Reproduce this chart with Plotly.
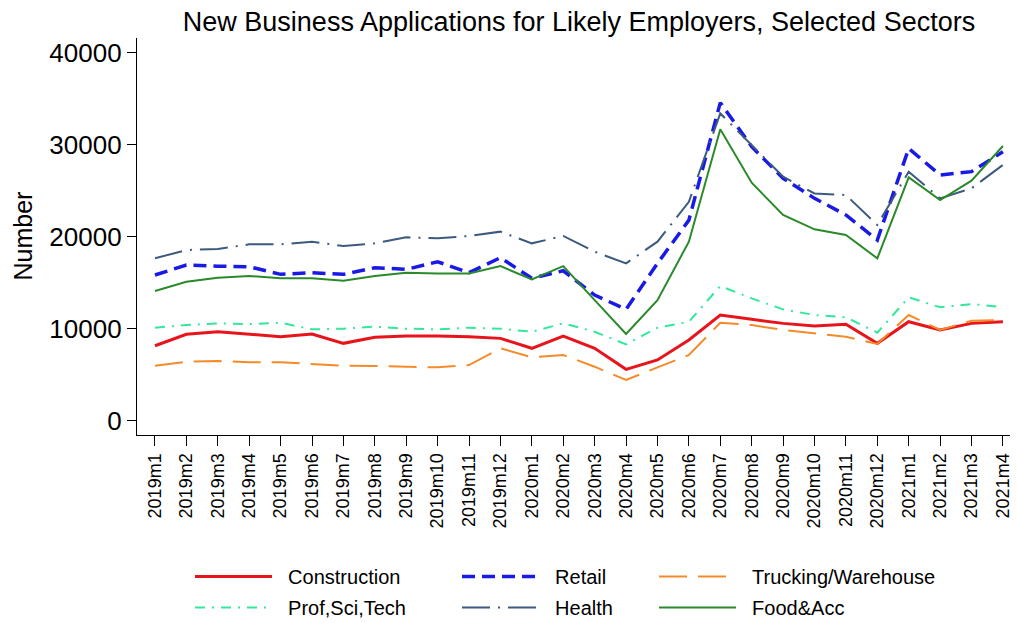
import plotly.graph_objects as go

months = [
    "2019m1", "2019m2", "2019m3", "2019m4", "2019m5", "2019m6", "2019m7",
    "2019m8", "2019m9", "2019m10", "2019m11", "2019m12", "2020m1", "2020m2",
    "2020m3", "2020m4", "2020m5", "2020m6", "2020m7", "2020m8", "2020m9",
    "2020m10", "2020m11", "2020m12", "2021m1", "2021m2", "2021m3", "2021m4",
]

construction = [8150, 9390, 9670, 9420, 9130, 9420, 8410, 9060, 9200, 9200,
                9130, 8950, 7870, 9200, 7870, 5580, 6600, 8770, 11490, 11020,
                10580, 10300, 10480, 8410, 10760, 9860, 10580, 10760]
retail = [15840, 16920, 16800, 16740, 15910, 16090, 15910, 16630, 16450, 17280,
          16090, 17720, 15480, 16300, 13660, 12100, 17100, 21800, 34570, 29780,
          26350, 24170, 22360, 19640, 29600, 26700, 27070, 29240]
trucking = [5980, 6410, 6490, 6350, 6350, 6130, 5980, 5940, 5870, 5800,
            6050, 7870, 6890, 7140, 5870, 4420, 5800, 7140, 10650, 10400,
            9860, 9500, 9130, 8340, 11490, 9860, 10870, 10930]
prof_sci_tech = [10110, 10400, 10580, 10500, 10650, 9930, 10000, 10220, 10000, 9930,
                 10110, 10000, 9670, 10580, 9670, 8300, 10100, 10760, 14640, 13300,
                 12100, 11490, 11240, 9570, 13410, 12330, 12680, 12330]
health = [17650, 18550, 18660, 19170, 19170, 19460, 18990, 19280, 19930, 19820,
          20080, 20550, 19280, 20080, 18370, 17100, 19460, 23800, 33400, 29970,
          26520, 24700, 24530, 21270, 27070, 24170, 25260, 27800]
food_acc = [14100, 15110, 15550, 15730, 15480, 15480, 15220, 15730, 16090, 16000,
            16000, 16800, 15370, 16800, 13100, 9420, 13100, 19460, 31670, 25870,
            22360, 20800, 20180, 17650, 26450, 23990, 26090, 29860]

FONT = "Liberation Sans, Arial, sans-serif"
PAD = "\u00a0\u00a0"

# page body has an 8px margin, so the figure is a bit smaller than the window
W, H = 1010, 615

# name, values, colour, width, dash, legend
series = [
    ("Construction", construction, "#E8141C", 3, "solid", "legend"),
    ("Retail", retail, "#1A1AE6", 3.5, "13px,7px", "legend2"),
    ("Trucking/Warehouse", trucking, "#F58A2A", 2, "28px,11px", "legend3"),
    ("Prof,Sci,Tech", prof_sci_tech, "#33E89A", 2, "10px,7px,2px,7px", "legend"),
    ("Health", health, "#3C5A7D", 2, "28px,8px,2px,8px", "legend2"),
    ("Food&Acc", food_acc, "#2A8A2A", 2, "solid", "legend3"),
]

fig = go.Figure()
x_idx = list(range(len(months)))

for name, vals, col, w, dash, leg in series:
    fig.add_trace(
        go.Scatter(
            x=x_idx,
            y=vals,
            mode="lines",
            name=PAD + name,
            legend=leg,
            legendgroup=name,
            line=dict(color=col, width=w, dash=dash),
        )
    )

legend_common = dict(
    xref="container",
    yref="container",
    yanchor="top",
    xanchor="left",
    orientation="v",
    itemwidth=77,
    traceorder="grouped",
    tracegroupgap=2,
    font=dict(family=FONT, size=20, color="black"),
    bgcolor="rgba(0,0,0,0)",
)
leg_y = 1 - 549 / H

fig.update_layout(
    width=W,
    height=H,
    margin=dict(l=129, r=0, t=30, b=188, autoexpand=False),
    paper_bgcolor="white",
    plot_bgcolor="white",
    font=dict(family=FONT, color="black"),
    title=dict(
        text="New Business Applications for Likely Employers, Selected Sectors",
        xref="container",
        yref="container",
        x=571 / W,
        y=1 - 14 / H,
        xanchor="center",
        yanchor="middle",
        font=dict(family=FONT, size=27, color="black"),
    ),
    xaxis=dict(
        range=[-0.573, 27.48],
        tickmode="array",
        tickvals=x_idx,
        ticktext=months,
        tickangle=-90,
        ticks="outside",
        ticklen=10,
        tickwidth=1.3,
        tickcolor="black",
        showline=True,
        linecolor="black",
        linewidth=1.3,
        showgrid=False,
        zeroline=False,
        tickfont=dict(family=FONT, size=18, color="black"),
    ),
    yaxis=dict(
        range=[-1554, 41600],
        tickvals=[0, 10000, 20000, 30000, 40000],
        ticktext=["0", "10000", "20000", "30000", "40000"],
        ticks="outside",
        ticklen=9,
        tickwidth=1.3,
        tickcolor="black",
        showline=True,
        linecolor="black",
        linewidth=1.3,
        showgrid=False,
        zeroline=False,
        tickfont=dict(family=FONT, size=26, color="black"),
    ),
    legend=dict(legend_common, x=182 / W, y=leg_y),
    legend2=dict(legend_common, x=449 / W, y=leg_y),
    legend3=dict(legend_common, x=646 / W, y=leg_y),
    annotations=[
        dict(
            text="Number",
            xref="paper",
            yref="paper",
            x=(14 - 129) / (W - 129),
            y=0.5,
            xanchor="center",
            yanchor="middle",
            textangle=-90,
            showarrow=False,
            font=dict(family=FONT, size=25, color="black"),
        )
    ],
)

fig.write_html("out.html")
